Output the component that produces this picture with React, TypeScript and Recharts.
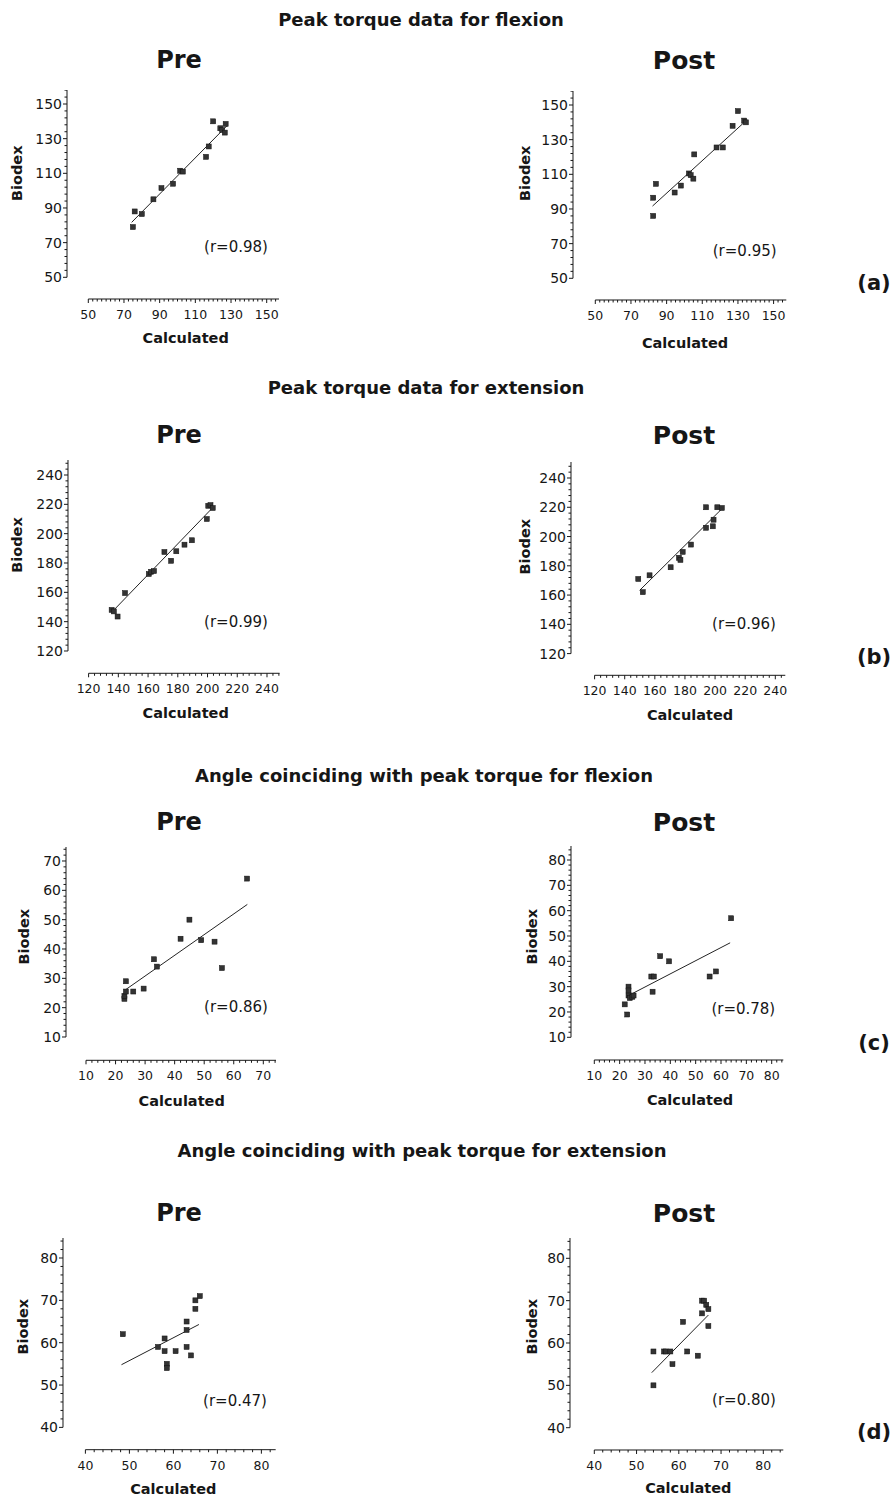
import React from 'react';
import { ScatterChart, Scatter, XAxis, YAxis, ReferenceLine } from 'recharts';

// ---------- DATA ----------
// (a) Peak torque, flexion
const flexPreCalculated = [75, 76, 80, 86.5, 91, 97.5, 101.5, 103, 116, 117.5, 120, 124, 125, 126.5, 127];
const flexPreBiodex = [79, 88, 86.5, 95, 101.5, 104, 111.5, 111, 119.5, 125.5, 140, 136, 135, 133.5, 138.5];
const flexPostCalculated = [82.5, 82.5, 84, 94.5, 98, 102.5, 103.5, 105, 105.5, 118, 121.5, 127, 130, 133.5, 134.5];
const flexPostBiodex = [86, 96.5, 104.5, 99.5, 103.5, 110.5, 109.5, 107.5, 121.5, 125.5, 125.5, 138, 146.5, 141, 140];

// (b) Peak torque, extension
const extPreCalculated = [135.5, 137, 139.5, 144.5, 160.5, 162, 164, 171, 175.5, 179, 184.5, 189.5, 199.5, 200.5, 202, 203.5];
const extPreBiodex = [148, 147, 143.5, 159.5, 172.5, 174, 174.5, 187.5, 181.5, 188, 192.5, 195.5, 210, 219, 219.5, 217.5];
const extPostCalculated = [149, 152, 156.5, 170.5, 176, 177, 178.5, 184, 194, 194, 198.5, 199, 201.5, 204.5];
const extPostBiodex = [171, 162, 173.5, 179, 185.5, 184, 189.5, 194.5, 220, 206, 207, 211.5, 220, 219.5];

// (c) Angle at peak torque, flexion
const angFlexPreCalculated = [23, 23, 23.5, 23.5, 26, 29.5, 33, 34, 42, 45, 49, 53.5, 56, 64.5];
const angFlexPreBiodex = [23, 24, 25.5, 29, 25.5, 26.5, 36.5, 34, 43.5, 50, 43, 42.5, 33.5, 64];
const angFlexPostCalculated = [22, 23, 23.5, 23.5, 23.5, 24, 25, 25.5, 32.5, 33.5, 33, 36, 39.5, 55.5, 58, 64];
const angFlexPostBiodex = [23, 19, 30, 28.5, 26.5, 25.5, 26, 26.5, 34, 34, 28, 42, 40, 34, 36, 57];

// (d) Angle at peak torque, extension
const angExtPreCalculated = [48.5, 56.5, 58, 58, 58.5, 58.5, 60.5, 63, 63, 63, 64, 65, 65, 66];
const angExtPreBiodex = [62, 59, 61, 58, 55, 54, 58, 65, 63, 59, 57, 68, 70, 71];
const angExtPostCalculated = [54, 54, 56.5, 57, 58, 58.5, 61, 62, 64.5, 65.5, 65.5, 66, 66.5, 67, 67];
const angExtPostBiodex = [50, 58, 58, 58, 58, 55, 65, 58, 57, 67, 70, 70, 69, 68, 64];

// fitted regression lines as drawn: [x1, y1, x2, y2]
const fitFlexPre = [74.3, 81.7, 127.6, 137.3];
const fitFlexPost = [82.1, 91.7, 134.5, 140.9];
const fitExtPre = [136.4, 147.3, 204.1, 218.4];
const fitExtPost = [149.9, 163.2, 204, 218.4];
const fitAngFlexPre = [23.5, 26.2, 64.6, 55.2];
const fitAngFlexPost = [24.5, 27, 63.6, 47.3];
const fitAngExtPre = [48.2, 54.8, 65.8, 64.3];
const fitAngExtPost = [53.6, 53, 67, 66.6];

// correlation labels
const rPreLabels = ['(r=0.98)', '(r=0.99)', '(r=0.86)', '(r=0.47)'];
const rPostLabels = ['(r=0.95)', '(r=0.96)', '(r=0.78)', '(r=0.80)'];

// tick labels
const torqueFlexTicks = [50, 70, 90, 110, 130, 150];
const torqueExtTicks = [120, 140, 160, 180, 200, 220, 240];
const angFlexPreTicks = [10, 20, 30, 40, 50, 60, 70];
const angFlexPostTicks = [10, 20, 30, 40, 50, 60, 70, 80];
const angExtTicks = [40, 50, 60, 70, 80];

const sectionTitles = [
  'Peak torque data for flexion',
  'Peak torque data for extension',
  'Angle coinciding with peak torque for flexion',
  'Angle coinciding with peak torque for extension',
];
const panelLetters = ['(a)', '(b)', '(c)', '(d)'];

// ---------- LAYOUT ----------
const FONT = '"DejaVu Sans", "Liberation Sans", Arial, sans-serif';
const INK = '#161616';

type Geo = {
  ax: number; ay: number;
  x0: [number, number]; x1: [number, number]; xEnd: number;
  y0: [number, number]; y1: [number, number]; yTop: number;
};

type Panel = {
  calc: number[]; biodex: number[]; fit: number[];
  xMajor: number[]; yMajor: number[]; xMinor: number; yMinor: number;
  geo: Geo;
  r: string; rPos: [number, number];
  calcPos: [number, number]; bioPos: [number, number];
};

const panels: Panel[] = [
  {
    calc: flexPreCalculated, biodex: flexPreBiodex, fit: fitFlexPre,
    xMajor: torqueFlexTicks, yMajor: torqueFlexTicks, xMinor: 2.5, yMinor: 4,
    geo: { ax: 67, ay: 299, x0: [50, 88.3], x1: [150, 266.7], xEnd: 279, y0: [50, 277.3], y1: [150, 104], yTop: 90 },
    r: rPreLabels[0], rPos: [236, 246.7], calcPos: [185.7, 338.3], bioPos: [17.3, 173.3],
  },
  {
    calc: flexPostCalculated, biodex: flexPostBiodex, fit: fitFlexPost,
    xMajor: torqueFlexTicks, yMajor: torqueFlexTicks, xMinor: 2.5, yMinor: 4,
    geo: { ax: 572.7, ay: 300, x0: [50, 595], x1: [150, 773.3], xEnd: 786, y0: [50, 278.3], y1: [150, 105], yTop: 91 },
    r: rPostLabels[0], rPos: [744.7, 250], calcPos: [685, 343], bioPos: [525, 173.3],
  },
  {
    calc: extPreCalculated, biodex: extPreBiodex, fit: fitExtPre,
    xMajor: torqueExtTicks, yMajor: torqueExtTicks, xMinor: 4, yMinor: 4,
    geo: { ax: 67.7, ay: 673.3, x0: [120, 88.3], x1: [240, 266.7], xEnd: 279.3, y0: [120, 651], y1: [240, 475], yTop: 460 },
    r: rPreLabels[1], rPos: [236, 621.7], calcPos: [185.7, 713.3], bioPos: [16.7, 545],
  },
  {
    calc: extPostCalculated, biodex: extPostBiodex, fit: fitExtPost,
    xMajor: torqueExtTicks, yMajor: torqueExtTicks, xMinor: 4, yMinor: 4,
    geo: { ax: 570.7, ay: 675, x0: [120, 594.3], x1: [240, 775], xEnd: 785, y0: [120, 653.3], y1: [240, 477.7], yTop: 461.7 },
    r: rPostLabels[1], rPos: [744, 623.3], calcPos: [690, 715], bioPos: [525, 546.7],
  },
  {
    calc: angFlexPreCalculated, biodex: angFlexPreBiodex, fit: fitAngFlexPre,
    xMajor: angFlexPreTicks, yMajor: angFlexPreTicks, xMinor: 2, yMinor: 2,
    geo: { ax: 66, ay: 1060, x0: [10, 86], x1: [70, 263.3], xEnd: 276, y0: [10, 1036.7], y1: [70, 860.7], yTop: 846.7 },
    r: rPreLabels[2], rPos: [236, 1006.7], calcPos: [181.7, 1100.7], bioPos: [24, 936.7],
  },
  {
    calc: angFlexPostCalculated, biodex: angFlexPostBiodex, fit: fitAngFlexPost,
    xMajor: angFlexPostTicks, yMajor: angFlexPostTicks, xMinor: 2, yMinor: 2,
    geo: { ax: 571, ay: 1060, x0: [10, 594.3], x1: [80, 771.7], xEnd: 783.3, y0: [10, 1037.3], y1: [80, 860], yTop: 846 },
    r: rPostLabels[2], rPos: [743.3, 1008.3], calcPos: [690, 1100], bioPos: [531.7, 936.7],
  },
  {
    calc: angExtPreCalculated, biodex: angExtPreBiodex, fit: fitAngExtPre,
    xMajor: angExtTicks, yMajor: angExtTicks, xMinor: 2, yMinor: 2,
    geo: { ax: 63.3, ay: 1450, x0: [40, 85.7], x1: [80, 261.7], xEnd: 276, y0: [40, 1427.7], y1: [80, 1258.3], yTop: 1238.3 },
    r: rPreLabels[3], rPos: [235, 1400], calcPos: [173.3, 1489.3], bioPos: [22.7, 1326.7],
  },
  {
    calc: angExtPostCalculated, biodex: angExtPostBiodex, fit: fitAngExtPost,
    xMajor: angExtTicks, yMajor: angExtTicks, xMinor: 2, yMinor: 2,
    geo: { ax: 570, ay: 1450, x0: [40, 594.3], x1: [80, 763.3], xEnd: 783.3, y0: [40, 1427.7], y1: [80, 1258.3], yTop: 1238 },
    r: rPostLabels[3], rPos: [744, 1399.3], calcPos: [688.3, 1488.3], bioPos: [531.7, 1326.7],
  },
];

const sectionTitlePos: [number, number][] = [[421, 26], [426, 394], [424, 782], [422, 1157]];
const subTitleY = [68, 443, 830, 1221];
const preX = 179;
const postX = 684;
const letterPos: [number, number][] = [[874, 290], [874, 664], [874, 1050], [874, 1439]];

const YW = 50;
const XH = 30;
const MR = 4;

const isIn = (list: number[], v: number) => list.some((m) => Math.abs(m - v) < 1e-6);

const buildTicks = (start: number, end: number, step: number) => {
  const out: number[] = [];
  for (let i = 0; start + i * step <= end + 1e-9; i++) out.push(Math.round((start + i * step) * 1000) / 1000);
  return out;
};

const makeXTick = (majors: number[]) => (props: any) => {
  const { x, y, payload } = props;
  const v = payload.value;
  const major = isIn(majors, v);
  return (
    <g>
      <line x1={x} y1={y} x2={x} y2={y + (major ? 4 : 2.5)} stroke={INK} strokeWidth={1} />
      {major && (
        <text x={x} y={y + 20} textAnchor="middle" fontFamily={FONT} fontSize={12.5} fill={INK}>
          {v}
        </text>
      )}
    </g>
  );
};

const makeYTick = (majors: number[]) => (props: any) => {
  const { x, y, payload } = props;
  const v = payload.value;
  const major = isIn(majors, v);
  return (
    <g>
      <line x1={x} y1={y} x2={x - (major ? 4 : 2.5)} y2={y} stroke={INK} strokeWidth={1} />
      {major && (
        <text x={x - 5} y={y} dy="0.36em" textAnchor="end" fontFamily={FONT} fontSize={14} fill={INK}>
          {v}
        </text>
      )}
    </g>
  );
};

const squareMarker = (p: any) => (
  <rect x={p.cx - 2.5} y={p.cy - 2.5} width={5} height={5} fill="#333" stroke="#111" strokeWidth={0.5} />
);

function PanelChart({ panel }: { panel: Panel }) {
  const g = panel.geo;
  const sx = (g.x1[0] - g.x0[0]) / (g.x1[1] - g.x0[1]);
  const xLo = g.x0[0] - (g.x0[1] - g.ax) * sx;
  const xHi = g.x1[0] + (g.xEnd - g.x1[1]) * sx;
  const sy = (g.y1[0] - g.y0[0]) / (g.y0[1] - g.y1[1]);
  const yLo = g.y0[0] - (g.ay - g.y0[1]) * sy;
  const yHi = g.y1[0] + (g.y1[1] - g.yTop) * sy;

  const width = YW + (g.xEnd - g.ax) + MR;
  const height = g.ay - g.yTop + XH;
  const data = panel.calc.map((c, i) => ({ x: c, y: panel.biodex[i] }));
  const xTicks = buildTicks(panel.xMajor[0], xHi, panel.xMinor);
  const yTicks = buildTicks(panel.yMajor[0], yHi, panel.yMinor);

  return (
    <div style={{ position: 'absolute', left: g.ax - YW, top: g.yTop }}>
      <ScatterChart width={width} height={height} margin={{ top: 0, right: MR, bottom: 0, left: 0 }}>
        <XAxis
          type="number" dataKey="x" domain={[xLo, xHi]} allowDataOverflow
          ticks={xTicks} interval={0} tickSize={0} tickMargin={0} tickLine={false} axisLine={false}
          height={XH} tick={makeXTick(panel.xMajor)}
        />
        <YAxis
          type="number" dataKey="y" domain={[yLo, yHi]} allowDataOverflow
          ticks={yTicks} interval={0} tickSize={0} tickMargin={0} tickLine={false} axisLine={false}
          width={YW} tick={makeYTick(panel.yMajor)}
        />
        <ReferenceLine
          segment={[{ x: xLo, y: panel.yMajor[0] }, { x: xLo, y: yHi }]}
          stroke={INK} strokeWidth={1} ifOverflow="visible"
        />
        <ReferenceLine
          segment={[{ x: panel.xMajor[0], y: yLo }, { x: xHi, y: yLo }]}
          stroke={INK} strokeWidth={1} ifOverflow="visible"
        />
        <ReferenceLine
          segment={[{ x: panel.fit[0], y: panel.fit[1] }, { x: panel.fit[2], y: panel.fit[3] }]}
          stroke="#222" strokeWidth={1} ifOverflow="visible"
        />
        <Scatter data={data} shape={squareMarker} isAnimationActive={false} />
      </ScatterChart>
    </div>
  );
}

export default function App() {
  return (
    <div style={{ position: 'absolute', left: 0, top: 0, width: 896, height: 1500, background: '#fff', overflow: 'hidden' }}>
      {panels.map((p, i) => (
        <PanelChart key={i} panel={p} />
      ))}
      <svg
        width={896} height={1500}
        style={{ position: 'absolute', left: 0, top: 0, pointerEvents: 'none' }}
        fontFamily={FONT} fill={INK}
      >
        {sectionTitles.map((t, i) => (
          <text key={'s' + i} x={sectionTitlePos[i][0]} y={sectionTitlePos[i][1]} textAnchor="middle" fontSize={18} fontWeight="bold">
            {t}
          </text>
        ))}
        {subTitleY.map((y, i) => (
          <g key={'t' + i}>
            <text x={preX} y={y} textAnchor="middle" fontSize={24} fontWeight="bold">Pre</text>
            <text x={postX} y={y + 1} textAnchor="middle" fontSize={25} fontWeight="bold">Post</text>
          </g>
        ))}
        {letterPos.map((pos, i) => (
          <text key={'l' + i} x={pos[0]} y={pos[1]} textAnchor="middle" fontSize={21} fontWeight="bold">
            {panelLetters[i]}
          </text>
        ))}
        {panels.map((p, i) => (
          <g key={'p' + i}>
            <text x={p.rPos[0]} y={p.rPos[1] + 5.5} textAnchor="middle" fontSize={15}>{p.r}</text>
            <text x={p.calcPos[0]} y={p.calcPos[1] + 5} textAnchor="middle" fontSize={14.5} fontWeight="bold">Calculated</text>
            <text
              x={p.bioPos[0]} y={p.bioPos[1] + 5} textAnchor="middle" fontSize={14.5} fontWeight="bold"
              transform={`rotate(-90 ${p.bioPos[0]} ${p.bioPos[1]})`}
            >
              Biodex
            </text>
          </g>
        ))}
      </svg>
    </div>
  );
}
